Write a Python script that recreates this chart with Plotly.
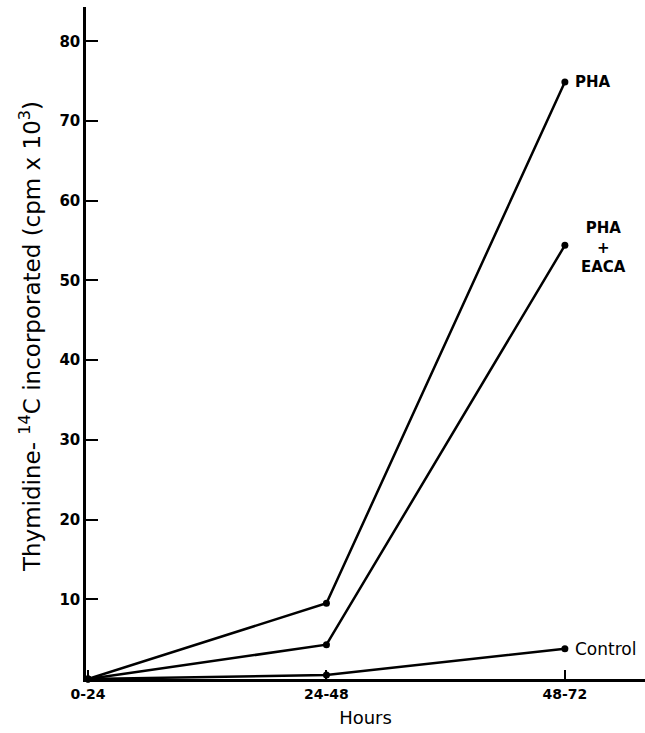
import plotly.graph_objects as go

categories = ["0-24", "24-48", "48-72"]
pha = [0, 9.5, 74.9]
pha_eaca = [0, 4.3, 54.4]
control = [0, 0.5, 3.8]
y_ticks = [10, 20, 30, 40, 50, 60, 70, 80]

FONT = "DejaVu Sans, Liberation Sans, sans-serif"

xpos = list(range(len(categories)))
fig = go.Figure()
for name, vals in [("PHA", pha), ("PHA + EACA", pha_eaca), ("Control", control)]:
    fig.add_trace(go.Scatter(x=xpos, y=vals, mode="lines+markers", name=name,
                             line=dict(color="black", width=2.5),
                             marker=dict(color="black", size=7),
                             cliponaxis=False))

fig.update_layout(
    width=645, height=733, showlegend=False,
    plot_bgcolor="white", paper_bgcolor="white",
    margin=dict(l=86, r=0, t=7, b=54),
    xaxis=dict(range=[-0.0084, 2.336], tickvals=xpos, ticktext=categories,
               ticks="inside", ticklen=9, tickwidth=1.5, tickcolor="black",
               showline=True, linecolor="black", linewidth=2.5, showgrid=False,
               zeroline=False,
               tickfont=dict(family=FONT, size=14, color="black", weight="bold"),
               title=dict(text="Hours", font=dict(family=FONT, size=18, color="black"), standoff=11)),
    yaxis=dict(range=[0, 84.3], tickvals=y_ticks, ticks="inside", ticklen=12,
               tickwidth=1.5, tickcolor="black",
               showline=True, linecolor="black", linewidth=2.5, showgrid=False,
               zeroline=False,
               tickfont=dict(family=FONT, size=15, color="black", weight="bold")),
)

fig.add_annotation(xref="paper", yref="y", x=-56/559, y=42.9, xanchor="center", yanchor="middle",
                   text="Thymidine- <sup>14</sup>C incorporated (cpm x 10<sup>3</sup>)",
                   textangle=-90, showarrow=False,
                   font=dict(family=FONT, size=23, color="black"))

lab_font = dict(family=FONT, size=15, color="black", weight="bold")
fig.add_annotation(x=2, y=pha[2], xshift=8, text="PHA", showarrow=False, xanchor="left", yanchor="middle", font=lab_font)
fig.add_annotation(x=2, y=pha_eaca[2], xshift=39, yshift=-2, text="PHA<br>+<br>EACA", showarrow=False,
                   xanchor="center", yanchor="middle", align="center",
                   font=dict(family=FONT, size=15, color="black", weight="bold"))
fig.add_annotation(x=2, y=control[2], xshift=8, text="Control", showarrow=False, xanchor="left", yanchor="middle",
                   font=dict(family=FONT, size=17, color="black"))

fig.write_html("out.html", config={"displayModeBar": False},
               post_script="document.body.style.margin='0';")
